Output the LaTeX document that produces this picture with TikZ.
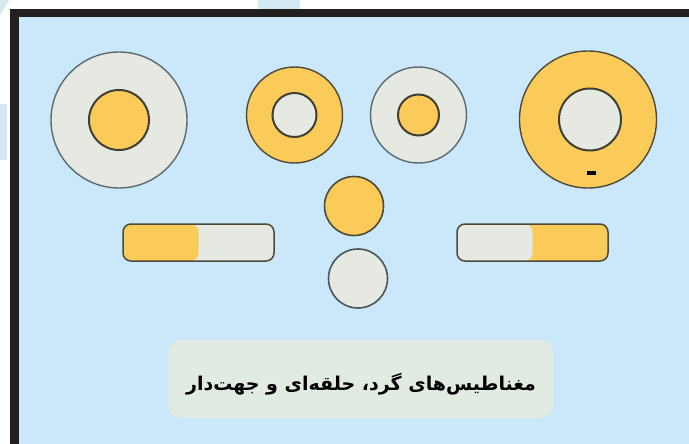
\documentclass[tikz,border=0pt]{standalone}
\usepackage{fontspec}
\newfontfamily\persianfont[Script=Arabic]{DejaVu Sans}
\TeXXeTstate=1
\usetikzlibrary{positioning}

\definecolor{skyfill}{HTML}{CBE7FA}
\definecolor{paleblue}{HTML}{D3EAF2}
\definecolor{framedark}{HTML}{231F20}
\definecolor{amber}{HTML}{FBCB5A}
\definecolor{pearl}{HTML}{E6E8E2}
\definecolor{rimbrown}{HTML}{4D4A3C}
\definecolor{rimslate}{HTML}{5B6B71}
\definecolor{captionfill}{HTML}{E2EBE1}

\tikzset{
  ring/.style={circle, inner sep=0pt, line width=1.4pt},
  core/.style={circle, inner sep=0pt, draw=rimbrown!85!black, line width=2pt},
  disc/.style={circle, inner sep=0pt, draw=rimbrown, line width=1.6pt, minimum size=59pt},
  bar/.style={rectangle, rounded corners=8pt, draw=rimbrown, line width=1.5pt,
    minimum width=151pt, minimum height=37pt, inner sep=0pt},
  pole/.style={rectangle, fill=black, inner sep=0pt, minimum width=9pt, minimum height=3.5pt}
}

\begin{document}
\begin{tikzpicture}[x=1pt,y=-1pt]
  \useasboundingbox (0,0) rectangle (689,444);
  % page and frame
  \fill[white] (0,0) rectangle (689,444);
  \fill[paleblue] (0,0) -- (9,0) -- (0,16) -- cycle;
  \fill[paleblue] (0,104) rectangle (7,160);
  \fill[paleblue] (258,0) rectangle (300,9);
  \fill[framedark] (10,9) rectangle (689,444);
  \fill[skyfill] (19,17) rectangle (689,444);

  % ring magnets
  \node[ring, fill=pearl, draw=rimslate, minimum size=136pt] (bigL) at (119,120) {};
  \node[core, fill=amber, minimum size=60pt] (bigLcore) at (bigL) {};
  \node[ring, fill=amber, draw=rimbrown, minimum size=96pt] (midL) at (294.5,115) {};
  \node[core, fill=pearl, minimum size=44pt] (midLcore) at (midL) {};
  \node[ring, fill=pearl, draw=rimslate, minimum size=96pt] (midR) at (418.5,115) {};
  \node[core, fill=amber, minimum size=41pt] (midRcore) at (midR) {};
  \node[ring, fill=amber, draw=rimbrown, minimum size=137pt] (bigR) at (588,119.5) {};
  \node[core, fill=pearl, minimum size=62pt] (bigRcore) at (590,119.5) {};
  \node[pole] (minus) at (591,173) {};

  % round magnets
  \node[disc, fill=amber] (discO) at (354,206) {};
  \node[disc, fill=pearl, draw=rimslate!80!black] (discG) at (358,278.5) {};

  % bar magnets
  \node[bar, fill=pearl, path picture={
      \fill[amber] (path picture bounding box.south west) rectangle (path picture bounding box.north);}]
    (barL) at (198.5,242.5) {};
  \node[bar, fill=amber, path picture={
      \fill[pearl] (path picture bounding box.south west) rectangle (path picture bounding box.north);}]
    (barR) at (532.5,242.5) {};

  % caption
  \node[rectangle, rounded corners=12pt, fill=captionfill, minimum width=385pt, minimum height=78pt]
    (cap) at (360.5,379) {};
  \node (captext) at (361,384) {\persianfont\bfseries\fontsize{19}{23}\selectfont
    \beginR مغناطیس‌های گرد، حلقه‌ای و جهت‌دار\endR};
\end{tikzpicture}
\end{document}
